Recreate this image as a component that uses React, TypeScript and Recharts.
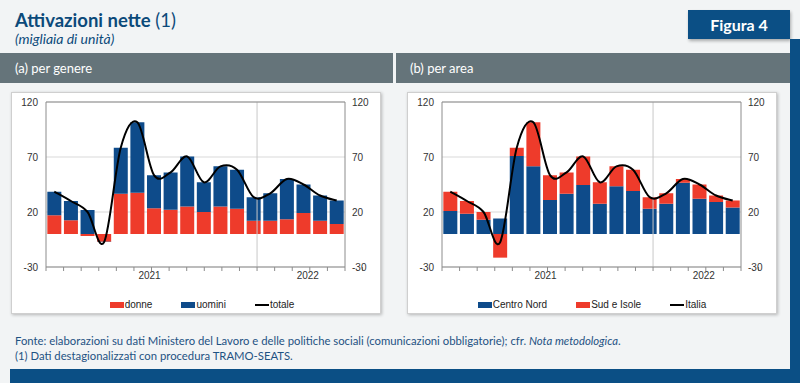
import { ComposedChart, Bar, Line, XAxis, YAxis, CartesianGrid, ReferenceLine, Legend } from "recharts";

// mesi (dati mensili destagionalizzati)
const months = [
  "gen 21", "feb 21", "mar 21", "apr 21", "mag 21", "giu 21",
  "lug 21", "ago 21", "set 21", "ott 21", "nov 21", "dic 21",
  "gen 22", "feb 22", "mar 22", "apr 22", "mag 22", "giu 22",
];

// (a) per genere
const donne = [17, 12.5, -1.8, -7, 36.5, 37.5, 23.5, 22, 25, 20, 25, 23, 12, 12, 13.5, 19, 12, 9];
const uomini = [21.5, 17.5, 21.8, -0.3, 42, 64, 30, 34, 45.5, 27, 36.5, 35.5, 21.5, 25, 36.5, 26, 23, 21.5];
const totale = [38.5, 30, 20, -7.3, 78.5, 101.5, 53.5, 56, 70.5, 47, 61.5, 58.5, 33.5, 37, 50, 45, 35, 30.5];

// (b) per area
const centroNord = [21, 18.3, 13, 14, 71, 61.5, 31, 36.5, 44.5, 27.5, 43.5, 39, 23, 27.5, 46.5, 32, 29, 24];
const sudIsole = [17.5, 11.7, 7, -21.5, 7.5, 40, 22.5, 19.5, 26, 19.5, 18, 19.5, 10.5, 9.5, 3.5, 13, 6, 6.5];
const italia = [38.5, 30, 20, -7.5, 78.5, 101.5, 53.5, 56, 70.5, 47, 61.5, 58.5, 33.5, 37, 50, 45, 35, 30.5];

const yTicks = [-30, 20, 70, 120];

const BLUE = "#0e4b8a";
const RED = "#ee3b2b";
const DARK = "#0c4a7a";
const AXIS = "#8c8c8c";
const GRID = "#d9d9d9";
const FONT = "Lato, 'Open Sans', sans-serif";
const CHART_FONT = "'Liberation Sans', Arial, sans-serif";

const yearOf = (m: string) => "20" + m.slice(-2);
const years = Array.from(new Set(months.map(yearOf)));
const yearSpans = years.map((y) => {
  const start = months.findIndex((m) => yearOf(m) === y);
  const count = months.filter((m) => yearOf(m) === y).length;
  return { year: y, start, mid: start + count / 2 };
});
const xTicks = Array.from(
  new Set([...months.map((_, i) => i), months.length, ...yearSpans.map((s) => s.mid)])
).sort((a, b) => a - b);

// linea smussata tipo Excel (Catmull-Rom)
const smoothCurve = (context: any) => {
  let pts: [number, number][] = [];
  return {
    areaStart() {},
    areaEnd() {},
    lineStart() {
      pts = [];
    },
    lineEnd() {
      if (!pts.length) return;
      context.moveTo(pts[0][0], pts[0][1]);
      for (let i = 0; i < pts.length - 1; i++) {
        const p0 = pts[i - 1] || pts[i];
        const p1 = pts[i];
        const p2 = pts[i + 1];
        const p3 = pts[i + 2] || p2;
        context.bezierCurveTo(
          p1[0] + (p2[0] - p0[0]) / 6,
          p1[1] + (p2[1] - p0[1]) / 6,
          p2[0] - (p3[0] - p1[0]) / 6,
          p2[1] - (p3[1] - p1[1]) / 6,
          p2[0],
          p2[1]
        );
      }
    },
    point(x: number, y: number) {
      pts.push([+x, +y]);
    },
  };
};

type Series = { key: string; name: string; color: string; values: number[] };

function YearTick({ x, y, payload }: any) {
  const span = yearSpans.find((s) => s.mid === payload.value);
  return (
    <g>
      {Number.isInteger(payload.value) && <line x1={x} x2={x} y1={y} y2={y + 4} stroke={AXIS} />}
      {span && (
        <text x={x - 2} y={y + 12} textAnchor="middle" fontSize={10} fill="#333" fontFamily={CHART_FONT}>
          {span.year}
        </text>
      )}
    </g>
  );
}

function makeLegend(order: string[], shift: number) {
  return ({ payload }: any) => {
    const items = order.map((n) => (payload || []).find((p: any) => p.value === n)).filter(Boolean);
    return (
      <div style={{ display: "flex", justifyContent: "center", gap: 29, marginLeft: shift * 2, fontSize: 10, fontFamily: CHART_FONT, color: "#222" }}>
        {items.map((p: any) => (
          <div key={p.value} style={{ display: "flex", alignItems: "center" }}>
            {p.type === "line" ? (
              <span style={{ width: 14, height: 2, background: p.color, display: "inline-block", marginRight: 1 }} />
            ) : (
              <span style={{ width: 14, height: 6, background: p.color, display: "inline-block", marginRight: 1 }} />
            )}
            {p.value}
          </div>
        ))}
      </div>
    );
  };
}

function Panel({ left, bars, line, legendShift }: { left: number; bars: Series[]; line: Series; legendShift: number }) {
  const rows = months.map((m, i) => {
    const row: Record<string, any> = { month: m };
    bars.forEach((b) => (row[b.key] = b.values[i]));
    row[line.key] = line.values[i];
    return row;
  });
  return (
    <div
      style={{
        position: "absolute",
        left,
        top: 92,
        width: 370,
        height: 222,
        background: "#fff",
        border: "1px solid #cfcfcf",
        boxShadow: "1px 1px 3px rgba(0,0,0,0.25)",
        boxSizing: "border-box",
      }}
    >
      <div style={{ position: "absolute", left: -1, top: -1 }}>
        <ComposedChart width={370} height={222} data={rows} stackOffset="sign" barCategoryGap="8%" margin={{ top: 10, right: 6, bottom: 27, left: 0 }}>
          <CartesianGrid xAxisId="num" yAxisId="left" vertical={false} stroke={GRID} />
          <XAxis
            xAxisId="num"
            type="number"
            domain={[0, months.length]}
            ticks={xTicks}
            interval={0}
            height={20}
            tickSize={0}
            tickMargin={0}
            tickLine={false}
            axisLine={{ stroke: AXIS }}
            tick={<YearTick />}
            allowDataOverflow
          />
          <XAxis xAxisId="cat" dataKey="month" hide height={0} />
          <YAxis yAxisId="left" domain={[-30, 120]} ticks={yTicks} width={35} tickLine={false} tickSize={4} tickMargin={4} axisLine={{ stroke: AXIS }} tick={{ fontSize: 10, fill: "#333", fontFamily: CHART_FONT }} allowDataOverflow />
          <YAxis yAxisId="right" orientation="right" domain={[-30, 120]} ticks={yTicks} width={30} tickLine={false} tickSize={4} tickMargin={3} axisLine={{ stroke: AXIS }} tick={{ fontSize: 10, fill: "#333", fontFamily: CHART_FONT, textAnchor: "start" }} allowDataOverflow />
          <ReferenceLine xAxisId="num" yAxisId="left" x={yearSpans[1].start} stroke="#c8c8c8" />
          <ReferenceLine xAxisId="num" yAxisId="left" y={yTicks[yTicks.length - 1]} stroke={AXIS} />
          {bars.map((b) => (
            <Bar key={b.key} xAxisId="cat" yAxisId="left" dataKey={b.key} name={b.name} stackId="s" fill={b.color} isAnimationActive={false} />
          ))}
          <Line xAxisId="cat" yAxisId="left" type={smoothCurve as any} dataKey={line.key} name={line.name} stroke="#000" strokeWidth={2} dot={false} isAnimationActive={false} />
          <Legend
            verticalAlign="middle"
            content={makeLegend([...bars.map((b) => b.name), line.name], legendShift)}
            wrapperStyle={{ top: 207, left: 0, width: 370 }}
          />
        </ComposedChart>
      </div>
    </div>
  );
}

export default function App() {
  return (
    <div style={{ position: "absolute", left: 0, top: 0, width: 800, height: 383, background: "#f2f4f5", overflow: "hidden", fontFamily: FONT }}>
      <div style={{ position: "absolute", left: 15, top: 11, fontSize: 18.5, lineHeight: "18px", color: DARK, whiteSpace: "nowrap" }}>
        <span style={{ fontWeight: 700 }}>Attivazioni nette</span> (1)
      </div>
      <div style={{ position: "absolute", left: 15, top: 32, fontSize: 14, lineHeight: "13px", fontStyle: "italic", color: DARK }}>(migliaia di unità)</div>

      <div style={{ position: "absolute", left: 688, top: 10, width: 102, height: 29, background: "#0b4f85", color: "#fff", fontWeight: 700, fontSize: 16, lineHeight: "29px", textAlign: "center", boxShadow: "1px 2px 3px rgba(0,0,0,0.3)" }}>
        Figura 4
      </div>
      <div style={{ position: "absolute", left: 790, top: 39, width: 10, height: 344, background: "#0b4f85" }} />

      <div style={{ position: "absolute", left: 0, top: 53, width: 393, height: 30, background: "#65747a" }} />
      <div style={{ position: "absolute", left: 396, top: 53, width: 394, height: 30, background: "#65747a" }} />
      <div style={{ position: "absolute", left: 15, top: 53, height: 30, lineHeight: "30px", fontSize: 13, color: "#fff" }}>(a) per genere</div>
      <div style={{ position: "absolute", left: 410, top: 53, height: 30, lineHeight: "30px", fontSize: 13, color: "#fff" }}>(b) per area</div>

      <Panel
        left={11}
        legendShift={6}
        bars={[
          { key: "donne", name: "donne", color: RED, values: donne },
          { key: "uomini", name: "uomini", color: BLUE, values: uomini },
        ]}
        line={{ key: "totale", name: "totale", color: "#000", values: totale }}
      />
      <Panel
        left={407}
        legendShift={0}
        bars={[
          { key: "centroNord", name: "Centro Nord", color: BLUE, values: centroNord },
          { key: "sudIsole", name: "Sud e Isole", color: RED, values: sudIsole },
        ]}
        line={{ key: "italia", name: "Italia", color: "#000", values: italia }}
      />

      <div style={{ position: "absolute", left: 15, top: 333, fontSize: 11.3, lineHeight: "15px", color: "#1e5283", whiteSpace: "nowrap" }}>
        <div>
          Fonte: elaborazioni su dati Ministero del Lavoro e delle politiche sociali (comunicazioni obbligatorie); cfr. <i>Nota metodologica</i>.
        </div>
        <div>(1) Dati destagionalizzati con procedura TRAMO-SEATS.</div>
      </div>
      <div style={{ position: "absolute", left: 10, top: 369, width: 790, height: 14, background: "#0b4f85" }} />
    </div>
  );
}
